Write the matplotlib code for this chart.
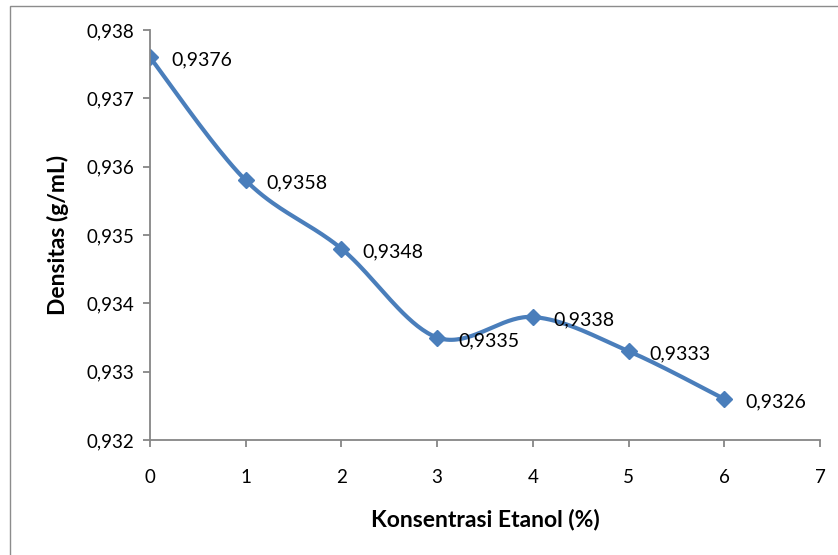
import numpy as np
import matplotlib
matplotlib.use('Agg')
from matplotlib import pyplot as plt
from matplotlib.patches import Rectangle
from matplotlib.ticker import FuncFormatter

plt.rcParams['font.family'] = ['Lato', 'DejaVu Sans']

konsentrasi = [0, 1, 2, 3, 4, 5, 6]
densitas = [0.9376, 0.9358, 0.9348, 0.9335, 0.9338, 0.9333, 0.9326]
labels = ['0,9376', '0,9358', '0,9348', '0,9335', '0,9338', '0,9333', '0,9326']


def smooth(x, y, n=40):
    # Excel style smoothing: Catmull-Rom through the points
    x = np.asarray(x, float)
    y = np.asarray(y, float)
    px = np.concatenate([[x[0]], x, [x[-1]]])
    py = np.concatenate([[y[0]], y, [y[-1]]])
    xs, ys = [], []
    t = np.linspace(0, 1, n)
    for i in range(1, len(px) - 2):
        p0, p1, p2, p3 = [np.array([px[j], py[j]]) for j in range(i - 1, i + 3)]
        c1 = p1 + (p2 - p0) / 6
        c2 = p2 - (p3 - p1) / 6
        seg = ((1 - t) ** 3)[:, None] * p1 + (3 * (1 - t) ** 2 * t)[:, None] * c1 \
            + (3 * (1 - t) * t ** 2)[:, None] * c2 + (t ** 3)[:, None] * p2
        xs.extend(seg[:, 0])
        ys.extend(seg[:, 1])
    return xs, ys


fig = plt.figure(figsize=(8.38, 5.55), dpi=100)
fig.patches.append(Rectangle((10 / 838, -0.1), 1.2, 1 - 6 / 555 + 0.1,
                             transform=fig.transFigure, fill=False,
                             edgecolor='#8c8c8c', linewidth=1))
ax = fig.add_axes([150 / 838, 1 - 440 / 555, 670 / 838, 410 / 555])

sx, sy = smooth(konsentrasi, densitas)
ax.plot(sx, sy, color='#4A7EBB', linewidth=3.0, solid_capstyle='round')
ax.plot(konsentrasi, densitas, linestyle='none', marker='D', markersize=8.5,
        color='#4A7EBB')

for x, y, lab in zip(konsentrasi, densitas, labels):
    ax.annotate(lab, (x, y), xytext=(21, -3), textcoords='offset pixels',
                ha='left', va='center', fontsize=14)

ax.set_xlim(0, 7)
ax.set_ylim(0.932, 0.938)
ax.set_xticks(range(0, 8))
ax.set_yticks([0.932, 0.933, 0.934, 0.935, 0.936, 0.937, 0.938])
ax.yaxis.set_major_formatter(FuncFormatter(lambda v, p: f'{v:.3f}'.replace('.', ',')))

for s in ['top', 'right']:
    ax.spines[s].set_visible(False)
for s in ['left', 'bottom']:
    ax.spines[s].set_color('#868686')
    ax.spines[s].set_linewidth(1.3)
ax.tick_params(axis='both', color='#868686', length=5, width=1.3,
               labelsize=13.5, direction='out')
ax.tick_params(axis='x', pad=16)
ax.tick_params(axis='y', pad=6)

ax.set_xlabel('Konsentrasi Etanol (%)', fontsize=16.5, fontweight='bold', labelpad=16)
ax.set_ylabel('Densitas (g/mL)', fontsize=16.5, fontweight='bold', labelpad=13)

plt.savefig('out.png', dpi=100)
